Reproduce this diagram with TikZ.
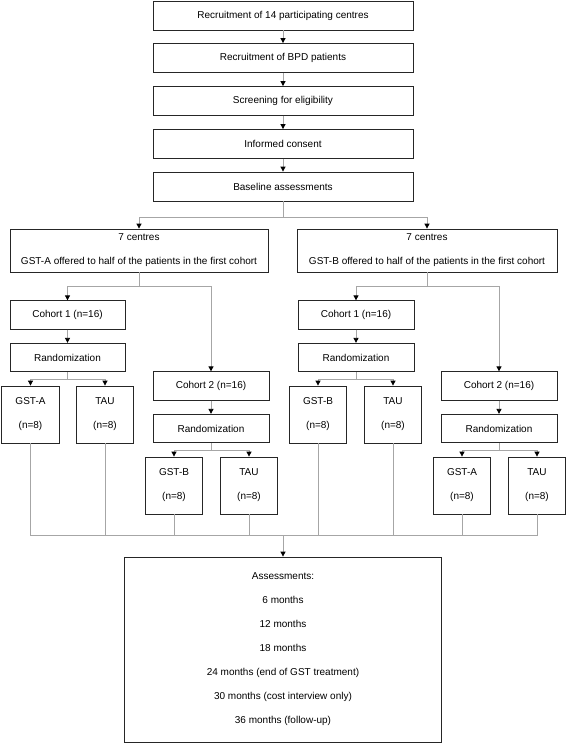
\documentclass[tikz,border=0pt]{standalone}
\usepackage{fontspec}
\setmainfont{Liberation Sans}
\usetikzlibrary{arrows.meta}
\begin{document}
\begin{tikzpicture}[x=1pt,y=-1pt,
 box/.style={draw=black!85, line width=0.8pt, fill=white, align=center, inner sep=0pt, font=\fontsize{10}{24}\selectfont},
 topbox/.style={box, minimum width=260pt, minimum height=29pt},
 cbox/.style={box, minimum width=116pt, minimum height=28.5pt},
 gbox/.style={box, minimum width=57.5pt, minimum height=57pt},
 ln/.style={draw=black!35, line width=0.8pt},
 arr/.style={ln, -{Triangle[width=5pt,length=5pt,color=black]}},
]
\useasboundingbox (0,0) rectangle (567,744);
% top chain
\node[topbox] (r1) at (283,15.5) {Recruitment of 14 participating centres};
\node[topbox] (r2) at (283,58) {Recruitment of BPD patients};
\node[topbox] (r3) at (283,101) {Screening for eligibility};
\node[topbox] (r4) at (283,144) {Informed consent};
\node[topbox] (r5) at (283,186.5) {Baseline assessments};
\draw[arr] (r1) -- (r2);
\draw[arr] (r2) -- (r3);
\draw[arr] (r3) -- (r4);
\draw[arr] (r4) -- (r5);
% centres
\node[box, minimum width=258pt, minimum height=43pt] (L7) at (139,250.5) {7 centres\\GST-A offered to half of the patients in the first cohort};
\node[box, minimum width=260pt, minimum height=43pt] (R7) at (427,250.5) {7 centres\\GST-B offered to half of the patients in the first cohort};
\coordinate (s0) at (283,217);
\draw[ln] (r5.south) -- (s0);
\draw[arr] (s0) -| (L7.north);
\draw[arr] (s0) -| (R7.north);
% left side
\node[cbox, minimum width=115pt] (LC1) at (67.5,315) {Cohort 1 (n=16)};
\node[cbox, minimum width=115pt] (LR1) at (67.5,357.5) {Randomization};
\node[gbox] (LGA) at (30.5,414.5) {GST-A\\(n=8)};
\node[gbox] (LT1) at (105,414.5) {TAU\\(n=8)};
\node[cbox] (LC2) at (211,386) {Cohort 2 (n=16)};
\node[cbox] (LR2) at (211,428.5) {Randomization};
\node[gbox] (LGB) at (174,485.5) {GST-B\\(n=8)};
\node[gbox] (LT2) at (249,485.5) {TAU\\(n=8)};
\coordinate (sL) at (139,286);
\draw[ln] (L7.south) -- (sL);
\draw[arr] (sL) -| (LC1.north);
\draw[arr] (sL) -| (LC2.north);
\draw[arr] (LC1) -- (LR1);
\draw[arr] (LC2) -- (LR2);
\coordinate (sL1) at (67.5,379);
\draw[ln] (LR1.south) -- (sL1);
\draw[arr] (sL1) -| (LGA.north);
\draw[arr] (sL1) -| (LT1.north);
\coordinate (sL2) at (211,450);
\draw[ln] (LR2.south) -- (sL2);
\draw[arr] (sL2) -| (LGB.north);
\draw[arr] (sL2) -| (LT2.north);
% right side
\node[cbox] (RC1) at (356,315) {Cohort 1 (n=16)};
\node[cbox] (RR1) at (356,357.5) {Randomization};
\node[gbox] (RGB) at (318,414.5) {GST-B\\(n=8)};
\node[gbox] (RT1) at (393,414.5) {TAU\\(n=8)};
\node[cbox] (RC2) at (499,386) {Cohort 2 (n=16)};
\node[cbox] (RR2) at (499,428.5) {Randomization};
\node[gbox] (RGA) at (462,485.5) {GST-A\\(n=8)};
\node[gbox] (RT2) at (537,485.5) {TAU\\(n=8)};
\coordinate (sR) at (427,286);
\draw[ln] (R7.south) -- (sR);
\draw[arr] (sR) -| (RC1.north);
\draw[arr] (sR) -| (RC2.north);
\draw[arr] (RC1) -- (RR1);
\draw[arr] (RC2) -- (RR2);
\coordinate (sR1) at (356,379);
\draw[ln] (RR1.south) -- (sR1);
\draw[arr] (sR1) -| (RGB.north);
\draw[arr] (sR1) -| (RT1.north);
\coordinate (sR2) at (499,450);
\draw[ln] (RR2.south) -- (sR2);
\draw[arr] (sR2) -| (RGA.north);
\draw[arr] (sR2) -| (RT2.north);
% assessments
\node[box, minimum width=317pt, minimum height=185pt] (AS) at (283,649.5) {Assessments:\\6 months\\12 months\\18 months\\24 months (end of GST treatment)\\30 months (cost interview only)\\36 months (follow-up)};
\coordinate (bL) at (30.5,535);
\coordinate (bR) at (537,535);
\coordinate (bM) at (283,535);
\draw[ln] (LGA.south) -- (bL) -- (bR) -- (RT2.south);
\draw[ln] (LT1.south) -- (LT1.south |- bM);
\draw[ln] (LGB.south) -- (LGB.south |- bM);
\draw[ln] (LT2.south) -- (LT2.south |- bM);
\draw[ln] (RGB.south) -- (RGB.south |- bM);
\draw[ln] (RT1.south) -- (RT1.south |- bM);
\draw[ln] (RGA.south) -- (RGA.south |- bM);
\draw[arr] (bM) -- (AS.north);
\end{tikzpicture}
\end{document}
